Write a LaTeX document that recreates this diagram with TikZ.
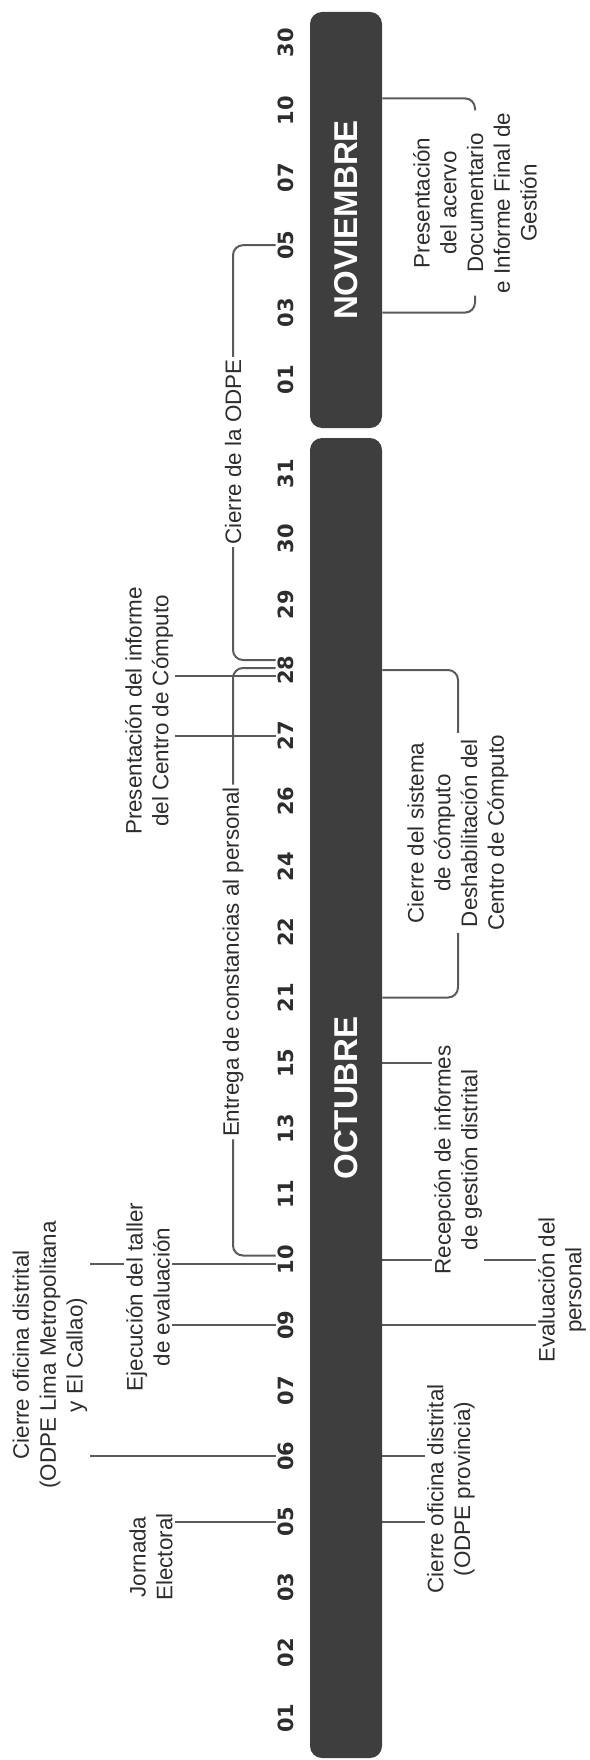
\documentclass[tikz,border=0pt]{standalone}
\usepackage{fontspec}
\setmainfont{Liberation Sans}
\newfontfamily\dayfont{DejaVu Sans}
\usetikzlibrary{calc,positioning}
\pgfdeclarelayer{back}
\pgfsetlayers{back,main}
\definecolor{barfill}{RGB}{62,62,62}
\definecolor{linkgray}{RGB}{90,90,90}
\definecolor{textgray}{RGB}{45,45,45}

\begin{document}
\begin{tikzpicture}[x=0.5pt,y=-0.5pt,
    month/.style={fill=barfill,rounded corners=6pt,rotate=90,minimum height=36pt,inner sep=0pt,text=white,font=\fontsize{16.5}{18}\selectfont\bfseries},
    day/.style={rotate=90,inner sep=1pt,text=textgray,font=\dayfont\fontsize{10.5}{12}\selectfont\bfseries},
    event/.style={rotate=90,align=center,inner sep=1pt,text=textgray,font=\fontsize{11.2}{13.4}\selectfont},
    link/.style={draw=linkgray,line width=1pt}]

  \useasboundingbox (0,0) rectangle (589,1760);

  % month bars
  \node [month,minimum width=660pt] at (346,1098) (oct) {OCTUBRE};
  \node [month,minimum width=208pt] at (346,220) (nov) {NOVIEMBRE};

  % days
  \foreach \d [count=\i from 0] in {01,02,03,05,06,07,09,10,11,13,15,21,22,24,26,27,28,29,30,31}{
    \node [day] at (286,{1718-65.5*\i}) (o\d) {\d};
  }
  \foreach \d [count=\i from 0] in {01,03,05,07,10,30}{
    \node [day] at (286,{380-67.4*\i}) (n\d) {\d};
  }

  % left side
  \node [event] at (151,1557) (jornada) {Jornada\\Electoral};
  \node [event] at (50,1355) (lima) {Cierre oficina distrital\\(ODPE Lima Metropolitana\\y El Callao)};
  \node [event,fill=white] at (148,1297) (taller) {Ejecución del taller\\de evaluación};
  \node [event] at (233,962) (entrega) {Entrega de constancias al personal};
  \node [event] at (149,711) (informe) {Presentación del informe\\del Centro de Cómputo};
  \node [event] at (233,452) (cierre) {Cierre de la ODPE};

  % right side
  \node [event] at (451,1489) (provincia) {Cierre oficina distrital\\(ODPE provincia)};
  \node [event,fill=white] at (458,1160) (recepcion) {Recepción de informes\\de gestión distrital};
  \node [event] at (562,1290) (evaluacion) {Evaluación del\\personal};
  \node [event] at (458,833) (sistema) {Cierre del sistema\\de cómputo\\Deshabilitación del\\Centro de Cómputo};
  \node [event] at (475,203) (acervo) {Presentación\\del acervo\\Documentario\\e Informe Final de\\Gestión};

  \coordinate (o10hi) at ($(o10.north)+(0,-4)$);
  \coordinate (o10lo) at ($(o10.north)+(0,4)$);
  \coordinate (o28hi) at ($(o28.north)+(0,-10)$);
  \coordinate (o28mid) at ($(o28.north)+(0,-2)$);
  \coordinate (o28lo) at ($(o28.north)+(0,6)$);
  \coordinate (n10hi) at ($(nov.south |- n10)+(0,-12)$);

  \begin{pgfonlayer}{back}
    \draw [link] (o05.north) -- (o05.north -| jornada.south);
    \draw [link] (o06.north) -- (o06.north -| lima.south);
    \draw [link] (o10lo) -- (o10lo -| lima.south);
    \draw [link] (o09.north) -- (o09.north -| taller.south);
    \draw [link] (o10lo) -- (o10lo -| taller.south);
    \draw [link,rounded corners=5pt] (o10hi) -| (entrega.west);
    \draw [link,rounded corners=5pt] (o28mid) -| (entrega.east);
    \draw [link] (o27.north) -- (o27.north -| informe.south);
    \draw [link] (o28lo) -- (o28lo -| informe.south);
    \draw [link,rounded corners=5pt] (o28hi) -| (cierre.west);
    \draw [link,rounded corners=5pt] (n05.north) -| (cierre.east);

    \draw [link] (oct.south |- o05) -- (o05 -| provincia.north);
    \draw [link] (oct.south |- o06) -- (o06 -| provincia.north);
    \draw [link] (oct.south |- o10) -- (o10 -| recepcion.north);
    \draw [link] (oct.south |- o15) -- (o15 -| recepcion.north);
    \draw [link] (oct.south |- o09) -- (o09 -| evaluacion.north);
    \draw [link] (oct.south |- o10) -- (o10 -| evaluacion.north);
    \draw [link,rounded corners=5pt] (oct.south |- o21) -| (sistema.west);
    \draw [link,rounded corners=5pt] (oct.south |- o28) -| (sistema.east);
    \draw [link,rounded corners=5pt] (nov.south |- n03) -| (acervo.west);
    \draw [link,rounded corners=5pt] (n10hi) -| (acervo.east);
  \end{pgfonlayer}
\end{tikzpicture}
\end{document}
